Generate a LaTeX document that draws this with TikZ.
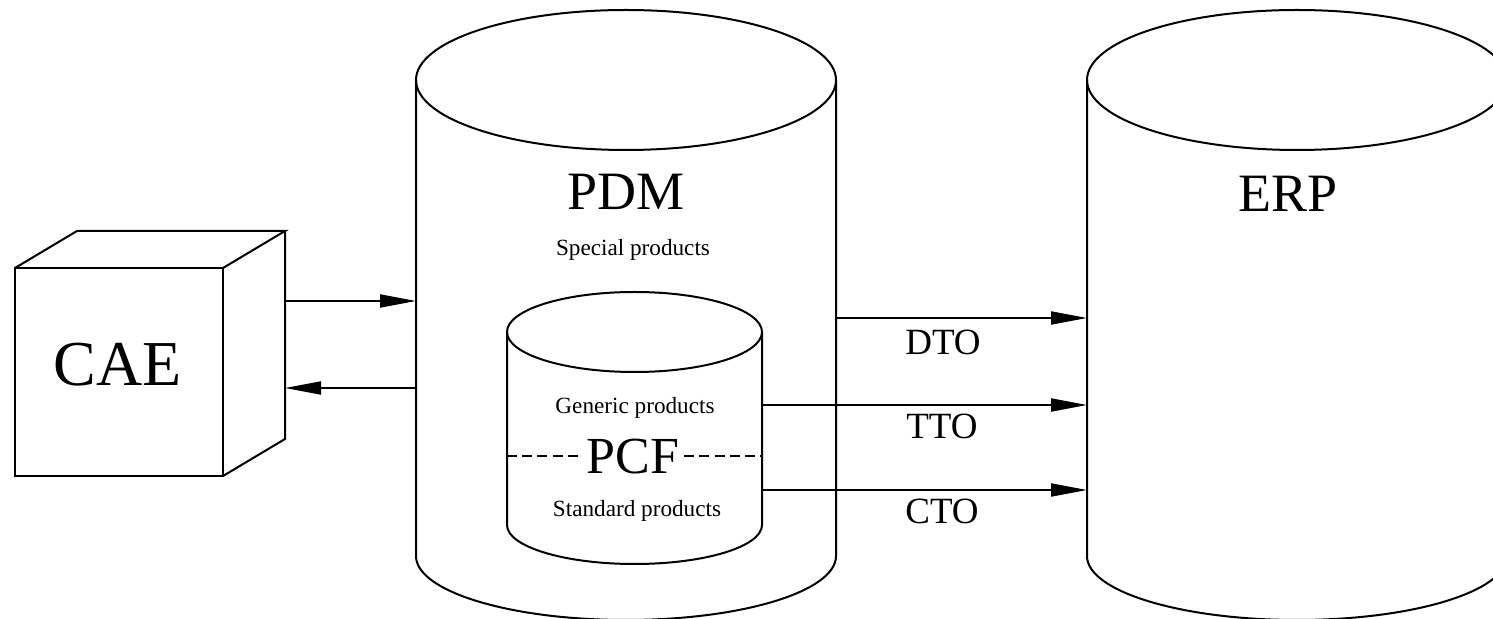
\documentclass[tikz,border=0pt]{standalone}
\usepackage{fontspec}
\setmainfont{Liberation Serif}
\usetikzlibrary{arrows.meta}
\begin{document}
\begin{tikzpicture}[x=0.5pt,y=-0.5pt,line width=1pt,
  arr/.style={-{Triangle[length=18pt,width=6.5pt]}},
  big/.style={font=\fontsize{27}{30}\selectfont, inner sep=1pt},
  mid/.style={font=\fontsize{18.5}{21}\selectfont, inner sep=1pt},
  small/.style={font=\fontsize{11.6}{13}\selectfont, inner sep=1pt},
  dash line/.style={line width=0.7pt, dash pattern=on 5pt off 2.6pt}]
\useasboundingbox (0,0) rectangle (1493,619);
\clip (0,0) rectangle (1493,619);
% CAE cube
\draw (15,268) rectangle (223,476);
\draw (15,268) -- (77,231) -- (285,231) -- (223,268);
\draw (285,231) -- (285,439) -- (223,476);
\node[font=\fontsize{32}{36}\selectfont] (cae) at (118,365) {CAE};
% PDM cylinder
\draw (626,80) ellipse [x radius=210, y radius=70];
\draw (416,80) -- (416,556) arc [start angle=180, end angle=0, x radius=210, y radius=64] -- (836,80);
\node[big] (pdm) at (626,192) {PDM};
\node[small] (spec) at (633,250) {Special products};
% ERP cylinder
\draw (1297,80) ellipse [x radius=210, y radius=70];
\draw (1087,80) -- (1087,556) arc [start angle=180, end angle=0, x radius=210, y radius=64] -- (1507,80);
\node[big] (erp) at (1288,194) {ERP};
% PCF cylinder
\draw (634.5,332) ellipse [x radius=127.5, y radius=40];
\draw (507,332) -- (507,525) arc [start angle=180, end angle=0, x radius=127.5, y radius=39] -- (762,332);
\node[small] (gen) at (635,408) {Generic products};
\node[font=\fontsize{26}{29}\selectfont, inner sep=2pt] (pcf) at (633,457) {PCF};
\node[small] (std) at (637,511) {Standard products};
\coordinate (pcfL) at (507,456);
\coordinate (pcfR) at (762,456);
\draw[dash line] (pcfL) -- (pcf.west |- pcfL);
\draw[dash line] (pcf.east |- pcfR) -- (pcfR);
% connector end points
\coordinate (caeA) at (285,301);
\coordinate (pdmA) at (416,301);
\coordinate (caeB) at (285,388);
\coordinate (pdmB) at (416,388);
\coordinate (pdmD) at (836,318);
\coordinate (erpD) at (1087,318);
\coordinate (pcfT) at (762,405);
\coordinate (erpT) at (1087,405);
\coordinate (pcfC) at (762,490);
\coordinate (erpC) at (1087,490);
\draw[arr] (caeA) -- (pdmA);
\draw[arr] (pdmB) -- (caeB);
\draw[arr] (pdmD) -- (erpD);
\draw[arr] (pcfT) -- (erpT);
\draw[arr] (pcfC) -- (erpC);
\node[mid] (dto) at (943,342) {DTO};
\node[mid] (tto) at (942,426) {TTO};
\node[mid] (cto) at (942,511) {CTO};
\end{tikzpicture}
\end{document}
